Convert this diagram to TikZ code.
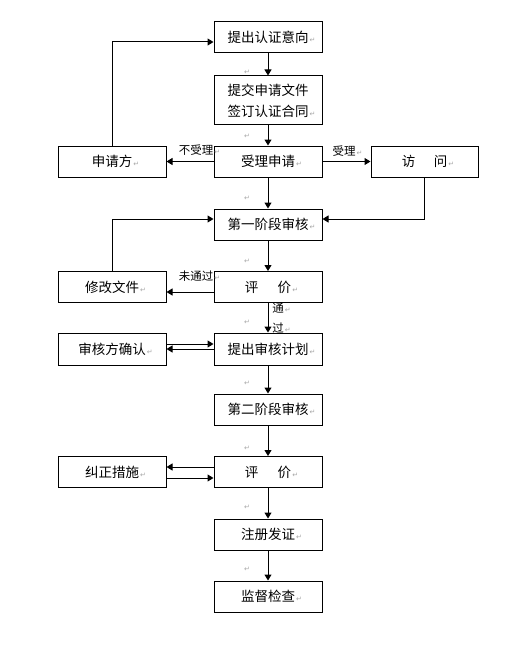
\documentclass[tikz,border=0pt]{standalone}
\usepackage{fontspec}
\newfontfamily\cjk{Noto Sans CJK SC}
\newfontfamily\pmfont{DejaVu Sans}
\usetikzlibrary{arrows.meta}
\newcommand\pmk{\rlap{\hspace{1pt}\pmfont\fontsize{7}{7}\selectfont\textcolor{gray!70}{↵}}}
\tikzset{
  box/.style={draw, line width=1pt, minimum width=108pt, minimum height=31pt, inner sep=0pt,
    align=center, font=\cjk\fontsize{13.5}{21}\selectfont},
  arr/.style={line width=1pt, -{Triangle[width=7pt,length=6pt]}},
  lbl/.style={inner sep=0pt, font=\cjk\fontsize{11.5}{13}\selectfont},
  pmark/.style={inner sep=0pt, font=\pmfont\fontsize{7}{7}\selectfont, text=gray!70}
}
\begin{document}
\begin{tikzpicture}[x=1pt,y=-1pt]
\useasboundingbox (0,0) rectangle (522,650);
% boxes
\node[box] (b1) at (268,37) {提出认证意向\pmk};
\node[box, minimum height=49pt] (b2) at (268,100.5) {提交申请文件\\签订认证合同\pmk};
\node[box] (b3) at (268,161.5) {受理申请\pmk};
\node[box] (sqf) at (112,161.5) {申请方\pmk};
\node[box, minimum width=107pt] (fw) at (424.5,161.5) {访\hspace{18.5pt}问\pmk};
\node[box] (s1) at (268,224.5) {第一阶段审核\pmk};
\node[box] (xg) at (112,287) {修改文件\pmk};
\node[box] (pj1) at (268,287) {评\hspace{19.5pt}价\pmk};
\node[box, minimum height=32pt] (shf) at (112,349) {审核方确认\pmk};
\node[box, minimum height=32pt] (jh) at (268,349) {提出审核计划\pmk};
\node[box] (s2) at (268,409.5) {第二阶段审核\pmk};
\node[box] (jz) at (112,472) {纠正措施\pmk};
\node[box] (pj2) at (268,472) {评\hspace{19.5pt}价\pmk};
\node[box] (zc) at (268,534.5) {注册发证\pmk};
\node[box] (jd) at (268,596.5) {监督检查\pmk};
% labels
\node[lbl] (l1) at (196,150) {不受理\pmk};
\node[lbl] (l2) at (344,151) {受理\pmk};
\node[lbl] (l3) at (196,276) {未通过\pmk};
\node[lbl] (l4) at (278,308) {通\pmk};
\node[lbl] (l5) at (278,328) {过\pmk};
% paragraph marks
\foreach \n/\yy in {p1/72,p2/136,p3/198,p4/261,p5/322,p6/383,p7/448,p8/507,p9/569}
  \node[pmark] (\n) at (247,\yy) {↵};
% connectors
\draw[arr] (b1) -- (b2);
\draw[arr] (b2) -- (b3);
\draw[arr] (b3) -- (sqf);
\draw[arr] (sqf.north) |- ([yshift=-5pt]b1.west);
\draw[arr] (b3) -- (fw);
\draw[arr] (b3) -- (s1);
\draw[arr] (fw.south) |- ([yshift=5.5pt]s1.east);
\draw[arr] (xg.north) |- ([yshift=5.5pt]s1.west);
\draw[arr] (s1) -- (pj1);
\draw[arr] ([yshift=-5pt]pj1.west) -- ([yshift=-5pt]xg.east);
\draw[arr] (pj1) -- (jh);
\draw[arr] ([yshift=5pt]shf.east) -- ([yshift=5pt]jh.west);
\draw[arr] (jh.west) -- (shf.east);
\draw[arr] (jh) -- (s2);
\draw[arr] (s2) -- (pj2);
\draw[arr] ([yshift=5pt]pj2.west) -- ([yshift=5pt]jz.east);
\draw[arr] ([yshift=-6pt]jz.east) -- ([yshift=-6pt]pj2.west);
\draw[arr] (pj2) -- (zc);
\draw[arr] (zc) -- (jd);
\end{tikzpicture}
\end{document}
